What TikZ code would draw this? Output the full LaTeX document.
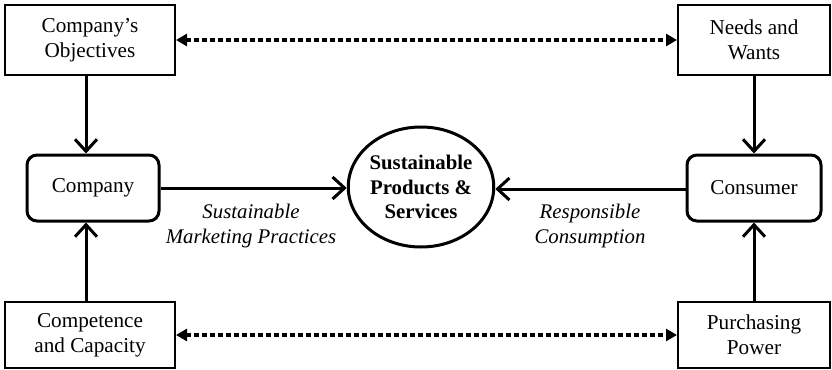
\documentclass[tikz,border=0pt]{standalone}
\usepackage{fontspec}
\setmainfont{Liberation Serif}
\usetikzlibrary{arrows.meta,shapes.geometric}

\begin{document}
\begin{tikzpicture}[x=0.5pt,y=-0.5pt,
    font=\fontsize{10.6}{12.6}\selectfont,
    sqbox/.style={draw,line width=1pt,align=center,inner sep=0pt},
    rndbox/.style={draw,line width=1.5pt,rounded corners=5pt,align=center,
      minimum width=66pt,minimum height=33pt,inner sep=0pt},
    flow/.style={line width=1.5pt,-{Straight Barb[length=6pt,width=11pt]}},
    link/.style={line width=1.8pt,dash pattern=on 2.4pt off 1.6pt,
      {Triangle[length=5.5pt,width=6pt]}-{Triangle[length=5.5pt,width=6pt]}}]
  \useasboundingbox (0,0) rectangle (832,370);
  % outer boxes
  \node[sqbox,minimum width=85pt,minimum height=35pt] (obj) at (90,40){Company's\\Objectives};
  \node[sqbox,minimum width=76pt,minimum height=35pt] (needs) at (754,40){Needs and\\Wants};
  \node[sqbox,minimum width=85pt,minimum height=33pt] (comp) at (90,335){Competence\\and Capacity};
  \node[sqbox,minimum width=76pt,minimum height=33pt] (power) at (754,335){Purchasing\\Power};
  % actors
  \node[rndbox] (company) at (93,188){Company};
  \node[rndbox,minimum width=67pt] (consumer) at (754,188){Consumer};
  % centre
  \node[draw,ellipse,line width=1.5pt,minimum width=71pt,minimum height=60pt,
    inner sep=0pt,align=center,font=\fontsize{10.4}{12.2}\selectfont\bfseries]
    (spp) at (421,187){Sustainable\\Products \&\\Services};
  \node[align=center,font=\fontsize{10.4}{12.5}\selectfont\itshape] (smp) at (251,226){Sustainable\\Marketing Practices};
  \node[align=center,font=\fontsize{10.4}{12.5}\selectfont\itshape] (rc) at (590,226){Responsible\\Consumption};
  % connectors
  \draw[flow] (obj.south -| 86,0) -- (company.north -| 86,0);
  \draw[flow] (comp.north -| 86,0) -- (company.south -| 86,0);
  \draw[flow] (needs.south) -- (consumer.north);
  \draw[flow] (power.north) -- (consumer.south);
  \draw[flow] (company.east |- 0,188) -- (spp.west |- 0,188);
  \draw[flow] (consumer.west |- 0,189) -- (spp.east |- 0,189);
  \draw[link] (obj.east) -- (needs.west);
  \draw[link] (comp.east) -- (power.west);
\end{tikzpicture}
\end{document}
